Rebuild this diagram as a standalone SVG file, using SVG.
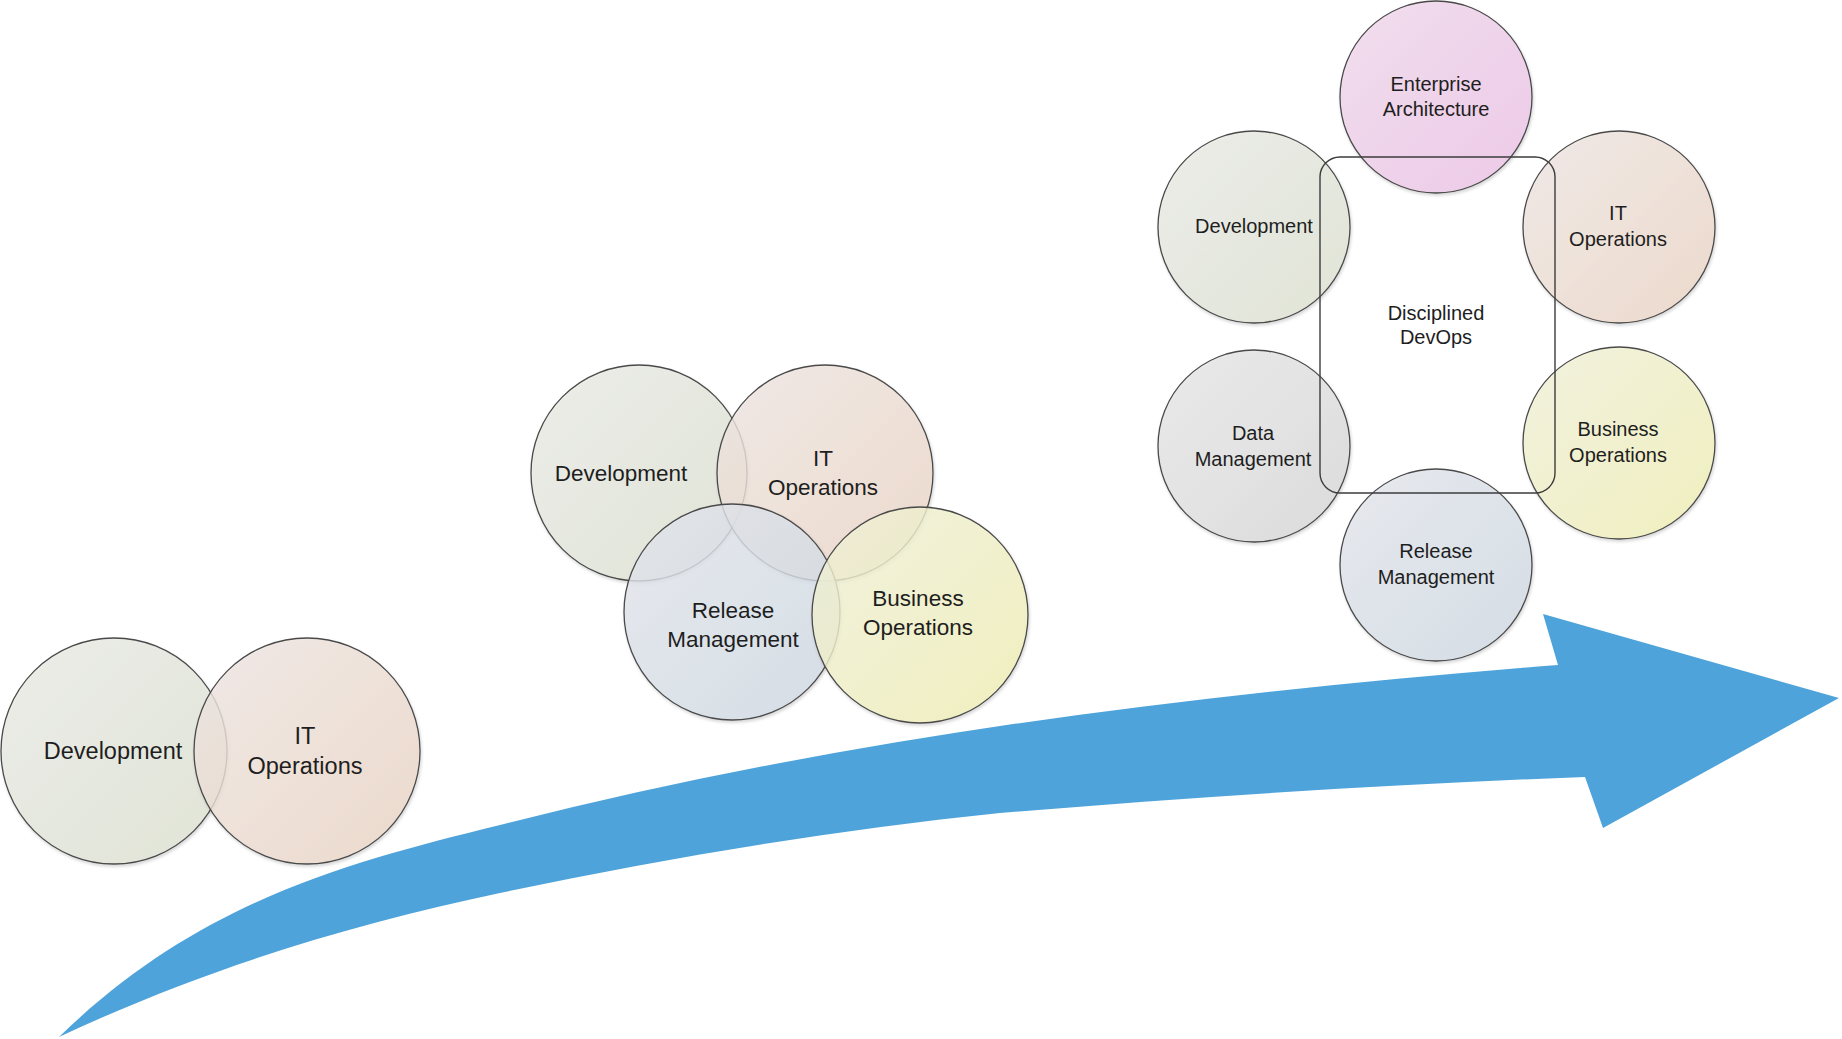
<svg xmlns="http://www.w3.org/2000/svg" width="1842" height="1039" viewBox="0 0 1842 1039">
<style>
  .c { stroke: #4a4a4a; stroke-width: 1.3; filter: url(#sh); }
  .t { font-family: "Liberation Sans", Arial, sans-serif; fill: #1e1e1e; text-anchor: middle; }
  .t1 { font-size: 23.5px; }
  .t2 { font-size: 22.5px; }
  .t3 { font-size: 20px; }
</style>
<defs>
  <filter id="sh" x="-10%" y="-10%" width="125%" height="125%">
    <feDropShadow dx="1" dy="2" stdDeviation="1.5" flood-color="#000" flood-opacity="0.18"/>
  </filter>
  <linearGradient id="gDev" x1="0" y1="0" x2="1" y2="1">
    <stop offset="0" stop-color="#ecede7" stop-opacity="0.8"/>
    <stop offset="1" stop-color="#dde2d1" stop-opacity="0.8"/>
  </linearGradient>
  <linearGradient id="gIt" x1="0" y1="0" x2="1" y2="1">
    <stop offset="0" stop-color="#efe8e5" stop-opacity="0.8"/>
    <stop offset="1" stop-color="#ecd5c4" stop-opacity="0.8"/>
  </linearGradient>
  <linearGradient id="gRel" x1="0" y1="0" x2="1" y2="1">
    <stop offset="0" stop-color="#e5e8ee" stop-opacity="0.8"/>
    <stop offset="1" stop-color="#cfd9e4" stop-opacity="0.8"/>
  </linearGradient>
  <linearGradient id="gBus" x1="0" y1="0" x2="1" y2="1">
    <stop offset="0" stop-color="#f2f2dc" stop-opacity="0.8"/>
    <stop offset="1" stop-color="#f0efb3" stop-opacity="0.8"/>
  </linearGradient>
  <linearGradient id="gEa" x1="0" y1="0" x2="1" y2="1">
    <stop offset="0" stop-color="#f2dcee" stop-opacity="0.85"/>
    <stop offset="1" stop-color="#edc4e7" stop-opacity="0.85"/>
  </linearGradient>
  <linearGradient id="gData" x1="0" y1="0" x2="1" y2="1">
    <stop offset="0" stop-color="#e9e9e9" stop-opacity="0.8"/>
    <stop offset="1" stop-color="#d7d7d7" stop-opacity="0.8"/>
  </linearGradient>
</defs>
<rect width="1842" height="1039" fill="#ffffff"/>

<g id="connectors">
  <path id="arrow" fill="#4ea4da" d="M59,1037 C200,900 350,862 500,825 C853,735 1205,693 1558,665 L1543,614 L1839,698 L1603,828 L1585,777 C1390,784 1195,797 1000,813 C833,830 667,858 500,893 C353,924 206,968 59,1037 Z"/>
</g>

<!-- Stage 1 -->
<g id="s1-development">
  <circle class="c" cx="114" cy="751" r="113" fill="url(#gDev)"/>
  <text class="t t1" x="113" y="759">Development</text>
</g>
<g id="s1-it-operations">
  <circle class="c" cx="307" cy="751" r="113" fill="url(#gIt)"/>
  <text class="t t1" x="305" y="744">IT</text>
  <text class="t t1" x="305" y="774">Operations</text>
</g>

<!-- Stage 2 -->
<g id="s2-development">
  <circle class="c" cx="639" cy="473" r="108" fill="url(#gDev)"/>
  <text class="t t2" x="621" y="481">Development</text>
</g>
<g id="s2-it-operations">
  <circle class="c" cx="825" cy="473" r="108" fill="url(#gIt)"/>
  <text class="t t2" x="823" y="466">IT</text>
  <text class="t t2" x="823" y="495">Operations</text>
</g>
<g id="s2-release-management">
  <circle class="c" cx="732" cy="612" r="108" fill="url(#gRel)"/>
  <text class="t t2" x="733" y="618">Release</text>
  <text class="t t2" x="733" y="647">Management</text>
</g>
<g id="s2-business-operations">
  <circle class="c" cx="920" cy="615" r="108" fill="url(#gBus)"/>
  <text class="t t2" x="918" y="606">Business</text>
  <text class="t t2" x="918" y="635">Operations</text>
</g>

<!-- Stage 3 -->
<g id="s3-enterprise-architecture">
  <circle class="c" cx="1436" cy="97" r="96" fill="url(#gEa)"/>
  <text class="t t3" x="1436" y="91">Enterprise</text>
  <text class="t t3" x="1436" y="116">Architecture</text>
</g>
<g id="s3-development">
  <circle class="c" cx="1254" cy="227" r="96" fill="url(#gDev)"/>
  <text class="t t3" x="1254" y="233">Development</text>
</g>
<g id="s3-it-operations">
  <circle class="c" cx="1619" cy="227" r="96" fill="url(#gIt)"/>
  <text class="t t3" x="1618" y="220">IT</text>
  <text class="t t3" x="1618" y="246">Operations</text>
</g>
<g id="s3-data-management">
  <circle class="c" cx="1254" cy="446" r="96" fill="url(#gData)"/>
  <text class="t t3" x="1253" y="440">Data</text>
  <text class="t t3" x="1253" y="466">Management</text>
</g>
<g id="s3-business-operations">
  <circle class="c" cx="1619" cy="443" r="96" fill="url(#gBus)"/>
  <text class="t t3" x="1618" y="436">Business</text>
  <text class="t t3" x="1618" y="462">Operations</text>
</g>
<g id="s3-release-management">
  <circle class="c" cx="1436" cy="565" r="96" fill="url(#gRel)"/>
  <text class="t t3" x="1436" y="558">Release</text>
  <text class="t t3" x="1436" y="584">Management</text>
</g>
<g id="s3-disciplined-devops">
  <rect x="1320" y="157" width="235" height="336" rx="20" ry="20" fill="none" stroke="#3c3c3c" stroke-width="1.4"/>
  <text class="t t3" x="1436" y="320">Disciplined</text>
  <text class="t t3" x="1436" y="344">DevOps</text>
</g>
</svg>
